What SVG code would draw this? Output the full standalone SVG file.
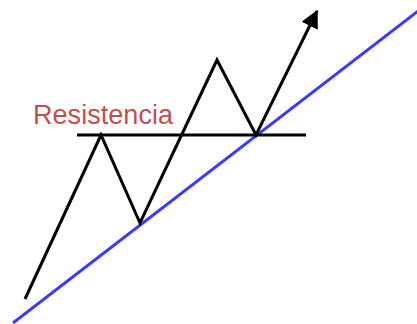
<svg xmlns="http://www.w3.org/2000/svg" width="417" height="324" viewBox="0 0 417 324">
<style>
.k{fill:none;stroke:#000;stroke-width:3;stroke-linejoin:miter;stroke-linecap:butt}
.b{fill:none;stroke:#3b3bf5;stroke-width:3}
.t{font-family:"Liberation Sans",Arial,sans-serif;font-size:27px;fill:#c0504d}
</style>
<defs>
<marker id="ah" markerWidth="6" markerHeight="6" refX="5.5" refY="3" orient="auto" markerUnits="strokeWidth">
<path d="M0,0 L6,3 L0,6 Z" fill="#000"/>
</marker>
</defs>
<rect width="417" height="324" fill="#fff"/>
<line class="b" x1="13" y1="323" x2="418" y2="11"/>
<line class="k" x1="77" y1="135" x2="306" y2="135"/>
<polyline class="k" points="25,299 101,135 140,223 217,60 256,135 317,11" marker-end="url(#ah)"/>
<text class="t" x="33" y="124" textLength="140">Resistencia</text>
</svg>
